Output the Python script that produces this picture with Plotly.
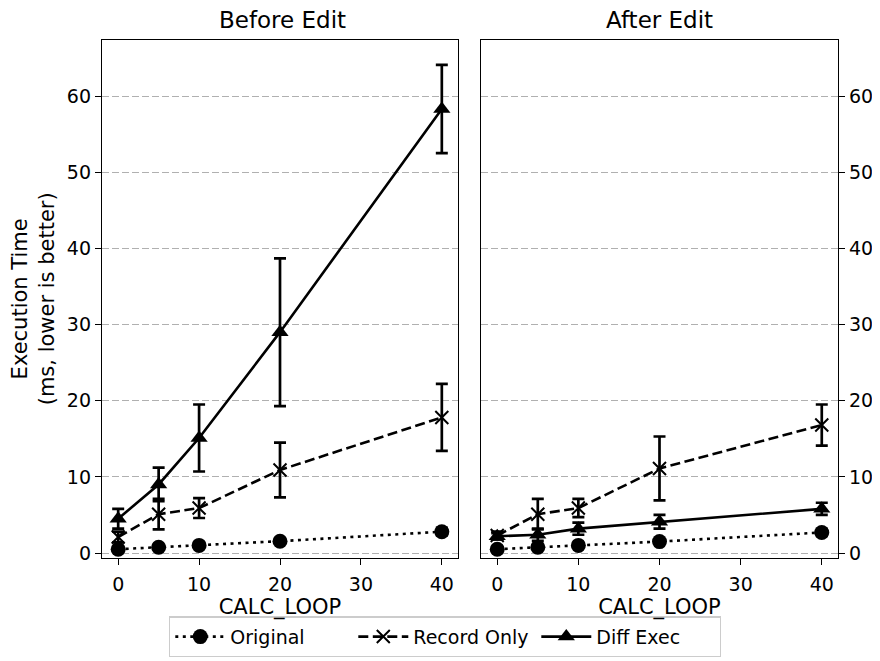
import plotly.graph_objects as go

calc_loop = [0, 5, 10, 20, 40]

before_original = [0.5, 0.75, 1.0, 1.55, 2.8]
before_original_err = [0.15, 0.15, 0.15, 0.2, 0.5]
before_record = [2.1, 5.1, 5.9, 10.9, 17.8]
before_record_err = [0.7, 2.0, 1.3, 3.6, 4.4]
before_diff = [4.5, 9.0, 15.1, 29.0, 58.3]
before_diff_err = [1.3, 2.2, 4.4, 9.7, 5.8]

after_original = [0.5, 0.75, 1.0, 1.5, 2.7]
after_original_err = [0.15, 0.15, 0.15, 0.2, 0.45]
after_record = [2.3, 5.1, 5.9, 11.1, 16.8]
after_record_err = [0.5, 2.0, 1.2, 4.2, 2.7]
after_diff = [2.2, 2.4, 3.2, 4.1, 5.8]
after_diff_err = [0.4, 0.8, 0.8, 0.9, 0.8]

series_names = ["Original", "Record Only", "Diff Exec"]
dashes = ["3px,4.5px", "10px,4.5px", "solid"]
symbols = ["circle", "x-thin", "triangle-up"]

W, H = 880, 661
OFF = 8  # browser body margin


def px_x(p):
    return (p - OFF) / W


def px_y(p):
    return 1 - (p - OFF) / H


fig = go.Figure()

panels = [
    ("x", "y", [before_original, before_record, before_diff],
     [before_original_err, before_record_err, before_diff_err], True),
    ("x2", "y2", [after_original, after_record, after_diff],
     [after_original_err, after_record_err, after_diff_err], False),
]

for xa, ya, vals, errs, show in panels:
    for name, v, e, d, s in zip(series_names, vals, errs, dashes, symbols):
        fig.add_trace(go.Scatter(
            x=calc_loop, y=v, name=name, xaxis=xa, yaxis=ya,
            mode="lines+markers", showlegend=show,
            line=dict(color="black", width=2.6, dash=d),
            marker=dict(symbol=s, size=15 if s != "x-thin" else 13, color="black",
                        line=dict(color="black", width=2 if s == "x-thin" else 0)),
            error_y=dict(type="data", array=e, visible=True, color="black",
                         thickness=2.7, width=6),
        ))

font = dict(family="DejaVu Sans", color="black")
axis_common = dict(showline=True, linecolor="black", linewidth=1.3, mirror=True,
                   ticks="outside", ticklen=6, tickcolor="black", tickwidth=1.3,
                   tickfont=dict(family="DejaVu Sans", size=19, color="black"),
                   zeroline=False)

ydom = [px_y(563), px_y(40)]

fig.update_layout(
    width=W, height=H,
    margin=dict(l=0, r=0, t=0, b=0),
    plot_bgcolor="white", paper_bgcolor="white",
    font=font,
    xaxis=dict(domain=[px_x(102), px_x(458)], range=[-2, 42], anchor="y",
               tickvals=[0, 10, 20, 30, 40], showgrid=False, ticklabelstandoff=3,
               title=dict(text="CALC_LOOP", font=dict(size=21), standoff=5),
               **axis_common),
    yaxis=dict(domain=ydom, range=[-0.65, 67.4], anchor="x",
               tickvals=[0, 10, 20, 30, 40, 50, 60], showgrid=True,
               gridcolor="#b0b0b0", griddash="7px,3px", gridwidth=1.2,
               title=dict(text="Execution Time<br>(ms, lower is better)",
                          font=dict(size=21), standoff=7),
               **axis_common),
    xaxis2=dict(domain=[px_x(481), px_x(838)], range=[-2, 42], anchor="y2",
                tickvals=[0, 10, 20, 30, 40], showgrid=False, ticklabelstandoff=3,
                title=dict(text="CALC_LOOP", font=dict(size=21), standoff=5),
                **axis_common),
    yaxis2=dict(domain=ydom, range=[-0.65, 67.4], anchor="x2",
                side="right",
                tickvals=[0, 10, 20, 30, 40, 50, 60], showgrid=True,
                gridcolor="#b0b0b0", griddash="7px,3px", gridwidth=1.2,
                **axis_common),
    legend=dict(orientation="h", x=px_x(445), xanchor="center", y=px_y(622), yanchor="top",
                bordercolor="#cccccc", borderwidth=1.3,
                font=dict(family="DejaVu Sans", size=19, color="black"),
                itemwidth=50, entrywidth=118, entrywidthmode="pixels"),
    annotations=[
        dict(text="Before Edit", x=px_x(282), y=px_y(20), xref="paper", yref="paper",
             showarrow=False, font=dict(family="DejaVu Sans", size=23, color="black"),
             xanchor="center", yanchor="middle"),
        dict(text="After Edit", x=px_x(659), y=px_y(20), xref="paper", yref="paper",
             showarrow=False, font=dict(family="DejaVu Sans", size=23, color="black"),
             xanchor="center", yanchor="middle"),
    ],
)

fig.write_html("out.html")
